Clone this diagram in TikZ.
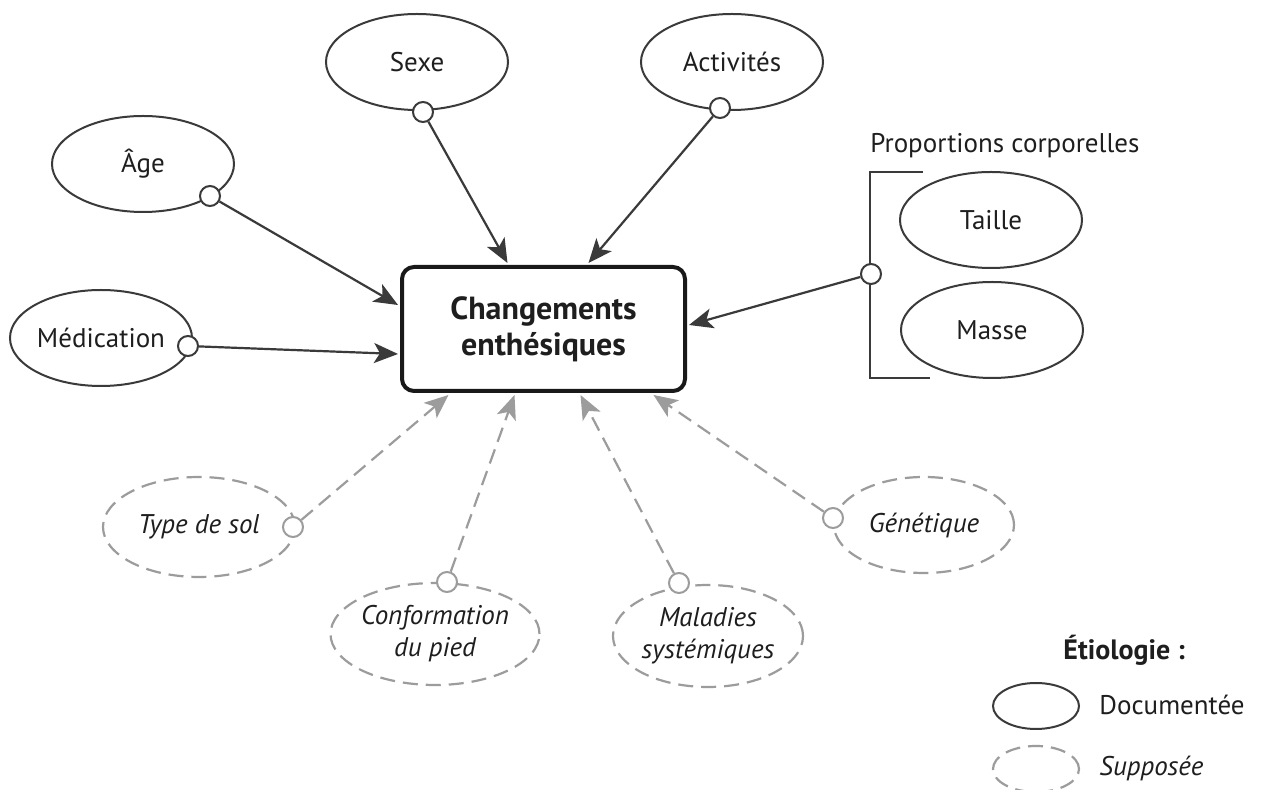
\documentclass[tikz,border=0pt]{standalone}
\usepackage{fontspec}
\setmainfont{PT Sans}
\usetikzlibrary{shapes.geometric,arrows.meta}
\definecolor{ln}{HTML}{3A3A3A}
\definecolor{gr}{HTML}{9C9C9C}
\definecolor{tx}{HTML}{1E1E1E}
\begin{document}
\begin{tikzpicture}[x=0.5pt,y=-0.5pt,
  font=\fontsize{13.5}{16}\selectfont,
  doc/.style={ellipse, draw=ln, line width=1pt, inner sep=0pt, text=tx, minimum width=91pt, minimum height=48pt},
  sup/.style={ellipse, draw=gr, line width=1.1pt, dash pattern=on 7.5pt off 4pt, inner sep=0pt, text=tx, align=center, font=\fontsize{13.5}{16}\selectfont\itshape},
  knob/.style={circle, draw=ln, fill=white, line width=1pt, minimum size=10pt, inner sep=0pt},
  gknob/.style={knob, draw=gr},
  link/.style={draw=ln, line width=1.1pt, -{Stealth[length=12pt,width=10pt,inset=3pt]}},
  glink/.style={draw=gr, line width=1.1pt, dash pattern=on 7.5pt off 4pt, -{Stealth[length=12pt,width=10pt,inset=3pt]}},
  lbl/.style={inner sep=0pt, text=tx}]
\useasboundingbox (0,0) rectangle (1266,790);
\fill[white] (0,0) rectangle (1266,790);

% documented factors
\node[doc] (sexe) at (417,62) {Sexe};
\node[doc] (act) at (732,62) {Activités};
\node[doc] (age) at (143,164) {Âge};
\node[doc] (med) at (101,338) {Médication};
\node[doc] (taille) at (991,220) {Taille};
\node[doc] (masse) at (992,330) {Masse};

% supposed factors
\node[sup, minimum width=96pt, minimum height=50pt] (sol) at (199,527) {Type de sol};
\node[sup, minimum width=95pt, minimum height=51pt] (conf) at (435,634) {Conformation\\du pied};
\node[sup, minimum width=95pt, minimum height=51pt] (mal) at (708,636) {Maladies\\systémiques};
\node[sup, minimum width=90pt, minimum height=48pt] (gen) at (924,525) {Génétique};

% central box
\node[draw=black!90, line width=2pt, rounded corners=6pt, minimum width=141.5pt, minimum height=62pt,
  font=\bfseries\fontsize{16}{18}\selectfont, align=center, text=tx] (box) at (543.5,329) {Changements\\enthésiques};

% bracket for body proportions
\node[lbl, anchor=base west] (prop) at (870,153) {Proportions corporelles};
\draw[ln, line width=1.1pt] (923,172) -- (870,172) -- (870,378) -- (930,378);

% knobs
\node[knob] (kS) at (423,112) {};
\node[knob] (kA) at (720,108) {};
\node[knob] (kAge) at (210,196) {};
\node[knob] (kM) at (188,346) {};
\node[knob] (kP) at (871,274) {};
\node[gknob] (kSol) at (293,527) {};
\node[gknob] (kConf) at (447,582) {};
\node[gknob] (kMal) at (679,583) {};
\node[gknob] (kGen) at (833,518) {};

% connectors
\draw[link] (kS) -- ([xshift=-18pt,yshift=1pt]box.north);
\draw[link] (kA) -- ([xshift=22.5pt,yshift=1pt]box.north);
\draw[link] (kAge) -- ([yshift=12pt,xshift=-1pt]box.west);
\draw[link] (kM) -- ([yshift=-12.5pt,xshift=-1pt]box.west);
\draw[link] (kP) -- ([yshift=2pt,xshift=1pt]box.east);
\draw[glink] (kSol) -- ([xshift=-47.5pt,yshift=-1pt]box.south);
\draw[glink] (kConf) -- ([xshift=-14.5pt,yshift=-1pt]box.south);
\draw[glink] (kMal) -- ([xshift=18.5pt,yshift=-1pt]box.south);
\draw[glink] (kGen) -- ([xshift=55pt,yshift=-1pt]box.south);

% legend
\node[lbl, anchor=west, font=\bfseries\fontsize{14}{16}\selectfont] (etio) at (1063,650) {Étiologie :};
\node[doc, minimum width=43pt, minimum height=23pt] (ldoc) at (1036,706) {};
\node[sup, minimum width=43pt, minimum height=23pt] (lsup) at (1036,769) {};
\node[lbl, anchor=west] (tdoc) at (1099,705) {Documentée};
\node[lbl, anchor=west, font=\fontsize{13.5}{16}\selectfont\itshape] (tsup) at (1099,768) {Supposée};
\end{tikzpicture}
\end{document}
